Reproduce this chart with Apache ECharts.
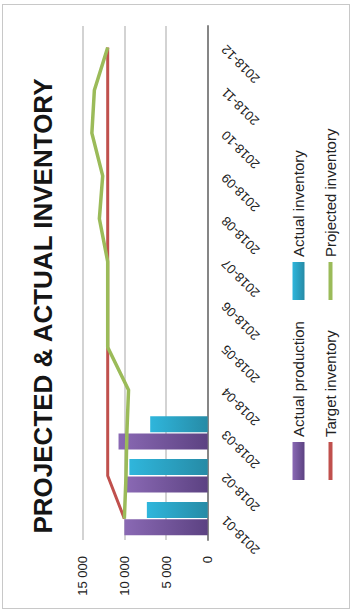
<!DOCTYPE html>
<html>
<head>
<meta charset="utf-8">
<script src="https://cdn.jsdelivr.net/npm/echarts@6/dist/echarts.min.js"></script>
<style>
  html, body { margin: 0; padding: 0; background: #fff; }
  body { width: 353px; height: 612px; position: relative; overflow: hidden; }
  #frame { position: absolute; left: 2px; top: 4px; width: 346px; height: 603px; border: 1.5px solid #c8c8c8; }
  /* the chart is laid out in landscape and turned a quarter turn to the left */
  #main { position: absolute; left: 0; top: 0; width: 612px; height: 353px;
          transform-origin: 0 0; transform: translateY(612px) rotate(-90deg); }
</style>
</head>
<body>
<div id="frame"></div>
<div id="main"></div>
<script>
// months on the category axis
const months = ['2018-01', '2018-02', '2018-03', '2018-04', '2018-05', '2018-06',
                '2018-07', '2018-08', '2018-09', '2018-10', '2018-11', '2018-12'];
// bars (only first three months filled)
const actualProduction = [10000, 9800, 10700];
const actualInventory = [7300, 9400, 6900];
// lines
const targetInventory = [10000, 12000, 12000, 12000, 12000, 12000, 12000, 12000, 12000, 12000, 12000, 12000];
const projectedInventory = [10000, 9800, 9700, 9500, 12000, 12000, 12000, 13000, 12600, 13900, 13600, 12000];
// value axis ticks
const valueMin = 0;
const valueMax = 15000;
const valueStep = 5000;

const font = 'Liberation Sans';
const fmt = v => String(v).replace(/\B(?=(\d{3})+(?!\d))/g, ' ');

const myChart = echarts.init(document.getElementById('main'), null, { renderer: 'svg' });

const legendItem = (name, left, top, h, icon) => ({
    data: [{ name: name, icon: icon }],
    left: left,
    top: top,
    itemWidth: 38,
    itemHeight: h,
    itemGap: 0,
    padding: 0,
    selectedMode: false,
    textStyle: { fontFamily: font, fontSize: 15, color: '#222' }
});

myChart.setOption({
    animation: false,
    title: {
        text: 'PROJECTED & ACTUAL INVENTORY',
        left: 'center',
        top: 25,
        textStyle: { fontFamily: font, fontSize: 26, fontWeight: 'bold', color: '#151515' }
    },
    legend: [
        legendItem('Actual production', 132, 291, 12, 'rect'),
        legendItem('Actual inventory', 312, 291, 12, 'rect'),
        legendItem('Target inventory', 132, 323, 4, 'rect'),
        legendItem('Projected inventory', 312, 323, 4, 'rect')
    ],
    grid: { left: 72, right: 26, top: 82.7, bottom: 145.3, outerBoundsMode: 'none' },
    xAxis: {
        type: 'category',
        data: months,
        axisLine: { lineStyle: { color: '#868686', width: 2 } },
        axisTick: { show: false },
        axisLabel: { rotate: 45, margin: 16, fontFamily: font, fontSize: 13, color: '#222' }
    },
    yAxis: {
        type: 'value',
        min: valueMin,
        max: valueMax,
        interval: valueStep,
        axisLine: { show: false },
        axisTick: { show: false },
        splitLine: { lineStyle: { color: '#c4c4c4', width: 1.5 } },
        axisLabel: { margin: 16, fontFamily: font, fontSize: 13, color: '#222', formatter: fmt }
    },
    series: [
        {
            name: 'Actual production',
            type: 'bar',
            data: actualProduction,
            barWidth: 16,
            barGap: '8%',
            itemStyle: {
                color: new echarts.graphic.LinearGradient(0, 0, 0, 1, [
                    { offset: 0, color: '#8a69b4' },
                    { offset: 1, color: '#5c4282' }
                ])
            }
        },
        {
            name: 'Actual inventory',
            type: 'bar',
            data: actualInventory,
            barWidth: 16,
            itemStyle: {
                color: new echarts.graphic.LinearGradient(0, 0, 0, 1, [
                    { offset: 0, color: '#2fb6dc' },
                    { offset: 1, color: '#268ba6' }
                ])
            }
        },
        {
            name: 'Target inventory',
            type: 'line',
            data: targetInventory,
            symbol: 'none',
            itemStyle: { color: '#c0504d' },
            lineStyle: { color: '#c0504d', width: 3, join: 'round' }
        },
        {
            name: 'Projected inventory',
            type: 'line',
            data: projectedInventory,
            symbol: 'none',
            itemStyle: { color: '#9bbb59' },
            lineStyle: { color: '#9bbb59', width: 3.5, join: 'round' }
        }
    ]
});
</script>
</body>
</html>
